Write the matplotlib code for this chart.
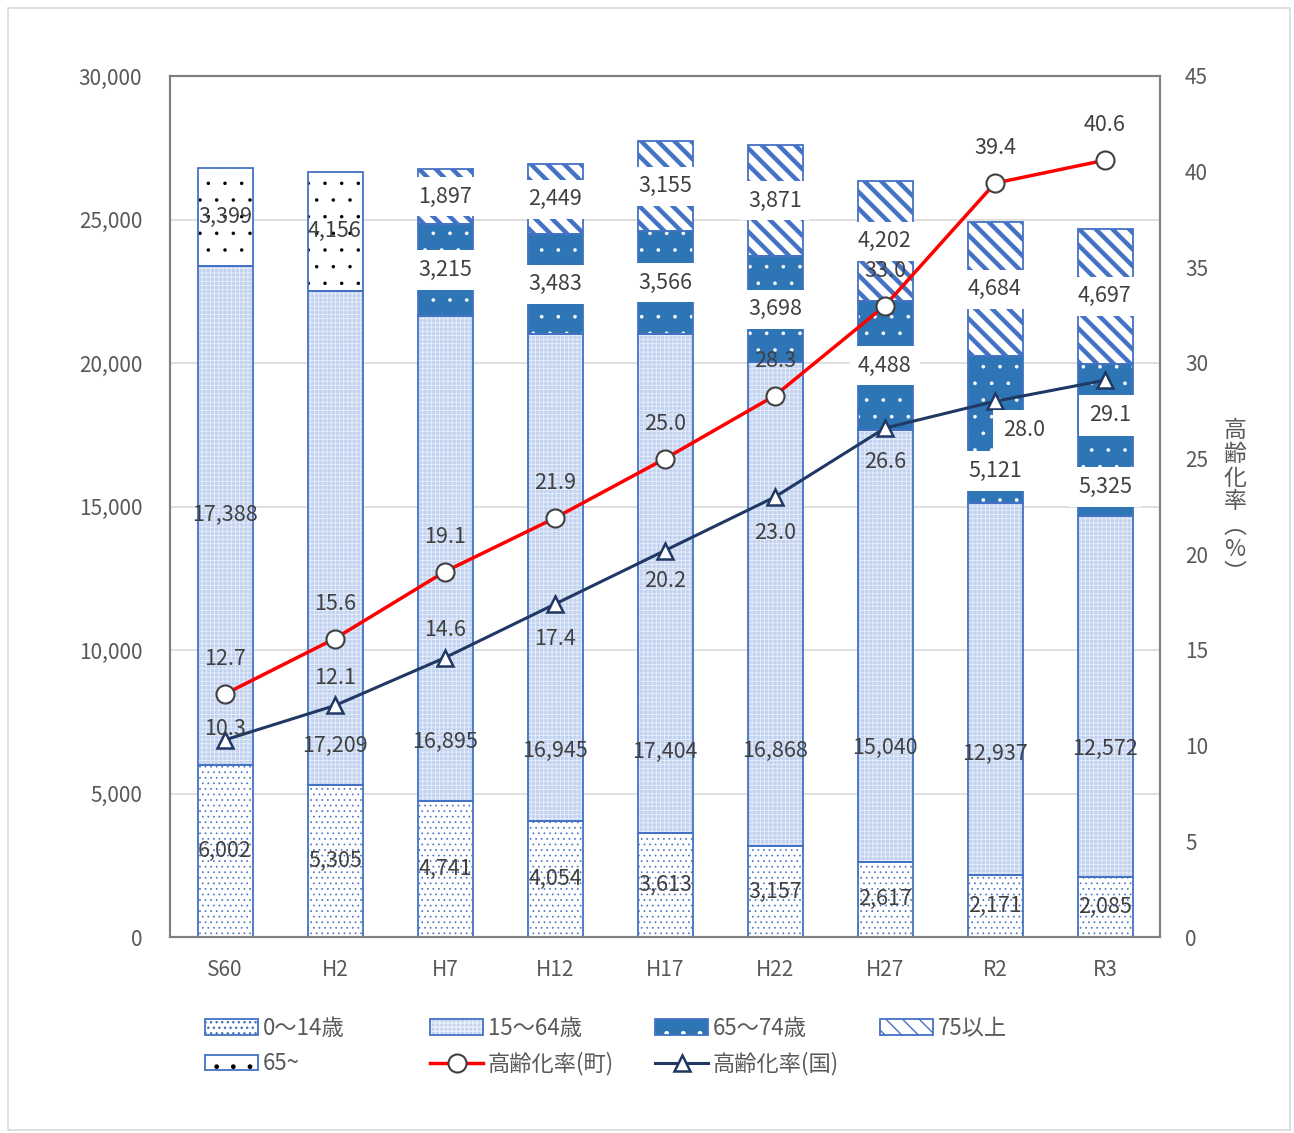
import numpy as np
import matplotlib
matplotlib.use("Agg")
import matplotlib.pyplot as plt
from matplotlib.patches import Patch, Rectangle
from matplotlib.lines import Line2D
from matplotlib.legend_handler import HandlerTuple

plt.rcParams['font.family'] = ['Noto Sans CJK JP', 'DejaVu Sans']

# ---------------- data ----------------
categories = ['S60', 'H2', 'H7', 'H12', 'H17', 'H22', 'H27', 'R2', 'R3']
age_0_14 = [6002, 5305, 4741, 4054, 3613, 3157, 2617, 2171, 2085]
age_15_64 = [17388, 17209, 16895, 16945, 17404, 16868, 15040, 12937, 12572]
age_65_over = [3399, 4156, np.nan, np.nan, np.nan, np.nan, np.nan, np.nan, np.nan]
age_65_74 = [np.nan, np.nan, 3215, 3483, 3566, 3698, 4488, 5121, 5325]
age_75_over = [np.nan, np.nan, 1897, 2449, 3155, 3871, 4202, 4684, 4697]
rate_town = [12.7, 15.6, 19.1, 21.9, 25.0, 28.3, 33.0, 39.4, 40.6]
rate_nation = [10.3, 12.1, 14.6, 17.4, 20.2, 23.0, 26.6, 28.0, 29.1]

legend_labels = ['0〜14歳', '15〜64歳', '65〜74歳', '75以上', '65~', '高齢化率(町)', '高齢化率(国)']
right_label = '高\n齢\n化\n率\n︵\n%\n︶'

# ---------------- label layout (positions, not data) ----------------
# vertical pixel position (from top) of the 15-64 labels that were moved; None = centred
mid_label_px = [None, 746, 742, 751, 752, 751, 748, 754, 749]
# pixel shift of 65-74 labels (positive = up)
l6574_shift = [0, 0, 0, 0, 0, 0, 0, -41, -47]
nation_offsets = [(0, 11), (0, 27), (0, 28), (0, -35), (0, -30), (0, -36), (0, -34), (29, -29), (5, -35)]
nation_boxed = [False, False, False, False, False, False, False, True, True]

# ---------------- styles ----------------
BLUE = '#4472C4'
DARKBLUE = '#2E75B6'
TXT = '#404040'
TICK = '#595959'
FS = 15.5

W, H = 1294, 1133
fig = plt.figure(figsize=(W / 100, H / 100), dpi=100)
ax = fig.add_axes([170 / W, (H - 937) / H, 990 / W, 861 / H])
ax2 = ax.twinx()

x = np.arange(len(categories))
a014 = np.array(age_0_14, float)
a1564 = np.array(age_15_64, float)
a65 = np.array(age_65_over, float)
a6574 = np.array(age_65_74, float)
a75 = np.array(age_75_over, float)
base2 = a014 + a1564
base3 = base2 + np.nan_to_num(a6574)

bw = 0.5

STY = {
    '014': ('white', '...', BLUE, 0.5),
    '1564': ('#c2d3f0', '++++', '#e8eefa', 0.6),
    '65': ('white', '.', 'black', 0.1),
    '6574': (DARKBLUE, '.', 'white', 0.2),
    '75': ('white', '\\\\', BLUE, 3.2),
}


def hatched_bar(xs, h, bottom, key):
    face, hatch, hcolor, hlw = STY[key]
    m = ~np.isnan(h)
    with plt.rc_context({'hatch.linewidth': hlw}):
        bars = ax.bar(xs[m], h[m], bw, bottom=bottom[m], facecolor=face,
                      edgecolor=hcolor, hatch=hatch, linewidth=0, zorder=2)
    for p in bars:
        if hasattr(p, 'set_hatch_linewidth'):
            p.set_hatch_linewidth(hlw)
    ax.bar(xs[m], h[m], bw, bottom=bottom[m], fill=False,
           edgecolor=BLUE, linewidth=1.3, zorder=3)
    return bars


hatched_bar(x, a014, np.zeros_like(a014), '014')
hatched_bar(x, a1564, a014, '1564')
hatched_bar(x, a65, base2, '65')
hatched_bar(x, a6574, base2, '6574')
hatched_bar(x, a75, base3, '75')

px_per_unit = 861 / 30000.0
box = dict(boxstyle='square,pad=0.4', fc='white', ec='none')

for i in range(len(x)):
    ax.text(x[i], a014[i] / 2, f'{int(a014[i]):,}', ha='center', va='center',
            fontsize=FS, color=TXT, zorder=5)
    if mid_label_px[i] is None:
        ymid = a014[i] + a1564[i] / 2
    else:
        ymid = (937 - mid_label_px[i]) / px_per_unit
    ax.text(x[i], ymid, f'{int(a1564[i]):,}', ha='center', va='center',
            fontsize=FS, color=TXT, zorder=5)
    if not np.isnan(a65[i]):
        ax.text(x[i], base2[i] + a65[i] / 2, f'{int(a65[i]):,}', ha='center', va='center',
                fontsize=FS, color=TXT, zorder=5)
    if not np.isnan(a6574[i]):
        ax.annotate(f'{int(a6574[i]):,}', (x[i], base2[i] + a6574[i] / 2),
                    xytext=(0, l6574_shift[i]), textcoords='offset pixels',
                    ha='center', va='center', fontsize=FS, color=TXT, zorder=5, bbox=box)
    if not np.isnan(a75[i]):
        ax.text(x[i], base3[i] + a75[i] / 2, f'{int(a75[i]):,}', ha='center', va='center',
                fontsize=FS, color=TXT, zorder=5, bbox=box)

# axes
ax.set_xlim(-0.5, len(x) - 0.5)
ax.set_ylim(0, 30000)
ax.set_yticks(np.arange(0, 30001, 5000))
ax.set_yticklabels([f'{v:,}' for v in range(0, 30001, 5000)])
ax.set_xticks(x)
ax.set_xticklabels(categories)
ax.yaxis.grid(True, color='#d9d9d9', linewidth=1.2)
ax.set_axisbelow(True)
ax.tick_params(axis='y', length=0, pad=20, labelsize=15, labelcolor=TICK)
ax.tick_params(axis='x', length=0, pad=16, labelsize=15, labelcolor=TICK)

ax2.set_ylim(0, 45)
ax2.set_yticks(np.arange(0, 46, 5))
ax2.tick_params(axis='y', length=0, pad=18, labelsize=15, labelcolor=TICK)
for a in (ax, ax2):
    for s in a.spines.values():
        s.set_color('#808080')
        s.set_linewidth(1.5)

# lines
town_kw = dict(color='#FF0000', linewidth=2.5, marker='o', markersize=13,
               markerfacecolor='white', markeredgecolor=TXT, markeredgewidth=1.5)
nat_kw = dict(color='#203864', linewidth=2.2, marker='^', markersize=12,
              markerfacecolor='white', markeredgecolor='#203864', markeredgewidth=1.8)
ax2.plot(x, rate_town, zorder=4, **town_kw)
ax2.plot(x, rate_nation, zorder=4, **nat_kw)

for i in range(len(x)):
    ax2.annotate(f'{rate_town[i]:.1f}', (x[i], rate_town[i]), xytext=(0, 35),
                 textcoords='offset pixels', ha='center', va='center',
                 fontsize=FS, color=TXT, zorder=6)
    kw = {}
    if nation_boxed[i]:
        kw['bbox'] = dict(boxstyle='square,pad=0.45', fc='white', ec='none')
    ax2.annotate(f'{rate_nation[i]:.1f}', (x[i], rate_nation[i]), xytext=nation_offsets[i],
                 textcoords='offset pixels', ha='center', va='center',
                 fontsize=FS, color=TXT, zorder=6, **kw)

fig.text(1235 / W, (H - 502) / H, right_label, ha='center', va='center', fontsize=16.5,
         color=TICK, linespacing=1.05)

# legend (4 columns placed individually)
def hp(key):
    face, hatch, hcolor, hlw = STY[key]
    p = Patch(facecolor=face, hatch=hatch, edgecolor=hcolor, linewidth=0)
    if hasattr(p, 'set_hatch_linewidth'):
        p.set_hatch_linewidth(hlw)
    return (p, Patch(fill=False, edgecolor=BLUE, linewidth=1.3))

h014 = hp('014')
h1564 = hp('1564')
h6574 = hp('6574')
h75 = hp('75')
h65 = hp('65')
htown = Line2D([], [], **town_kw)
hnat = Line2D([], [], **nat_kw)

cols = [
    ([h014, h65], [legend_labels[0], legend_labels[4]], 205),
    ([h1564, htown], [legend_labels[1], legend_labels[5]], 430),
    ([h6574, hnat], [legend_labels[2], legend_labels[6]], 655),
    ([h75], [legend_labels[3]], 880),
]
for hs, ls, xpx in cols:
    fig.legend(hs, ls, loc='upper left', bbox_to_anchor=(xpx / W, (H - 1017) / H),
               frameon=False, fontsize=16, handlelength=2.4, handleheight=0.7,
               handletextpad=0.2, labelspacing=0.55, borderpad=0, borderaxespad=0,
               handler_map={tuple: HandlerTuple(ndivide=1, pad=0)},
               labelcolor=TICK)

# outer chart border
fig.patches.append(Rectangle((8 / W, 3 / H), 1282 / W, 1122 / H, transform=fig.transFigure,
                             fill=False, edgecolor='#d9d9d9', linewidth=1.2))

fig.savefig('out.png', dpi=100)
